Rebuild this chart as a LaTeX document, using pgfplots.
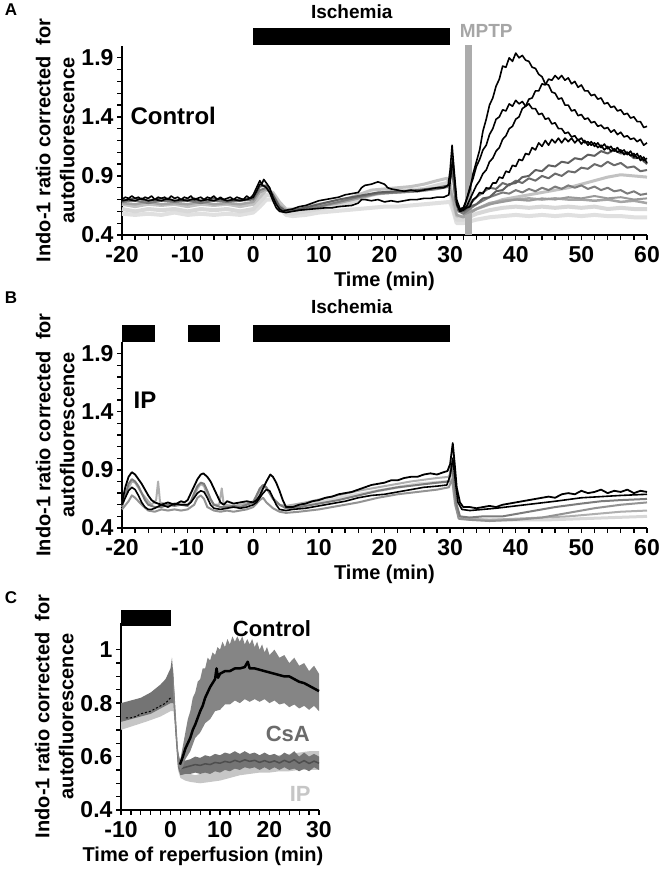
\documentclass[border=0pt]{standalone}
\usepackage{fontspec}
\setmainfont{Liberation Sans}
\usepackage{pgfplots}
\pgfplotsset{compat=1.18}

\definecolor{dg}{HTML}{5F5F5F}
\definecolor{mg}{HTML}{7C7C7C}
\definecolor{lg}{HTML}{C2C2C2}
\definecolor{vlg}{HTML}{D8D8D8}
\definecolor{csaband}{HTML}{747474}
\definecolor{csaline}{HTML}{4E4E4E}
\definecolor{csatext}{HTML}{6B6B6B}
\definecolor{ipband}{HTML}{C6C6C6}
\definecolor{ctlband}{HTML}{858585}

\pgfplotsset{
  panel/.style={
    scale only axis,
    axis x line=bottom, axis y line=left,
    axis line style={-, line width=1.5pt},
    x axis line style={-}, y axis line style={-},
    tick align=outside,
    major tick length=5pt, minor tick length=5pt,
    every tick/.style={black, line width=1.3pt},
    tick label style={font=\fontsize{23}{23}\selectfont\bfseries},
    xticklabel style={yshift=-3pt},
    label style={font=\fontsize{20}{24}\selectfont\bfseries},
    ylabel={Indo-1 ratio corrected\ \ for\\autofluorescence},
    ylabel style={align=center},
    xlabel style={at={(ticklabel cs:0.5)}, anchor=north, yshift=-2pt},
    clip=false,
    every axis plot/.append style={line join=round, mark=none},
  }
}

\begin{document}
\begin{tikzpicture}
\useasboundingbox (0,0) rectangle (660pt,870pt);

% ---------------- A: control ----------------
\begin{axis}[panel,
  at={(122pt,635pt)}, anchor=south west, width=525pt, height=189pt,
  xmin=-20, xmax=60, ymin=0.4, ymax=2,
  xtick={-20,-10,...,60}, xticklabels={-20,-10,0,10,20,30,40,50,60},
  ytick={0.4,0.9,1.4,1.9}, yticklabels={0.4,0.9,1.4,1.9},
  minor x tick num=4, minor y tick num=4,
  xlabel={Time (min)},
]
% light traces
\addplot[vlg!80!white, line width=4pt] coordinates {(-20,0.58)(-18,0.57)(-16,0.58)(-14,0.57)(-12,0.59)(-10,0.57)(-8,0.58)(-6,0.57)(-4,0.58)(-2,0.57)(0,0.59)(1,0.64)(2,0.70)(3,0.70)(4,0.63)(5,0.57)(6,0.56)(8,0.57)(10,0.59)(12,0.60)(14,0.61)(16,0.62)(18,0.63)(20,0.64)(22,0.64)(24,0.65)(26,0.66)(28,0.67)(30,0.68)(30.5,0.60)(31,0.50)(32,0.50)(34,0.53)(36,0.55)(38,0.56)(40,0.57)(42,0.56)(44,0.57)(46,0.56)(48,0.57)(50,0.56)(52,0.57)(54,0.56)(56,0.56)(58,0.55)(60,0.55)};
\addplot[vlg, line width=4pt] coordinates {(-20,0.62)(-18,0.60)(-16,0.62)(-14,0.61)(-12,0.62)(-10,0.60)(-8,0.62)(-6,0.61)(-4,0.62)(-2,0.60)(0,0.62)(1,0.68)(2,0.74)(3,0.73)(4,0.65)(5,0.59)(6,0.58)(8,0.60)(10,0.62)(12,0.64)(14,0.66)(16,0.70)(18,0.74)(20,0.76)(22,0.77)(24,0.78)(26,0.79)(28,0.82)(29.5,0.84)(30,0.80)(30.5,0.62)(31,0.53)(32,0.53)(34,0.58)(36,0.61)(38,0.63)(40,0.64)(42,0.63)(44,0.64)(46,0.63)(48,0.64)(50,0.63)(52,0.64)(54,0.62)(56,0.63)(58,0.62)(60,0.62)};
\addplot[lg, line width=3pt] coordinates {(-20,0.66)(-18,0.64)(-16,0.66)(-14,0.65)(-12,0.66)(-10,0.64)(-8,0.66)(-6,0.65)(-4,0.66)(-2,0.64)(0,0.66)(1,0.72)(2,0.78)(3,0.76)(4,0.68)(5,0.62)(6,0.62)(8,0.64)(10,0.66)(12,0.68)(14,0.70)(16,0.74)(18,0.78)(20,0.79)(22,0.80)(24,0.81)(26,0.83)(28,0.86)(29.5,0.88)(30,0.84)(30.5,0.66)(31,0.56)(32,0.56)(34,0.62)(36,0.66)(38,0.70)(40,0.72)(42,0.74)(44,0.76)(46,0.78)(48,0.80)(50,0.83)(52,0.86)(54,0.89)(56,0.91)(58,0.90)(60,0.89)};
\addplot[lg!85!black, line width=2.5pt] coordinates {(-20,0.67)(-18,0.66)(-16,0.68)(-14,0.66)(-12,0.67)(-10,0.66)(-8,0.68)(-6,0.66)(-4,0.67)(-2,0.66)(0,0.68)(1,0.76)(2,0.79)(3,0.74)(4,0.65)(5,0.61)(7,0.62)(10,0.64)(13,0.67)(16,0.71)(19,0.75)(22,0.76)(25,0.77)(28,0.79)(29.8,0.81)(30.5,0.70)(31,0.57)(32,0.55)(34,0.62)(36,0.67)(38,0.69)(40,0.70)(42,0.71)(44,0.70)(46,0.71)(48,0.70)(50,0.70)(52,0.69)(54,0.70)(56,0.68)(58,0.69)(60,0.67)};
% MPTP bar
\fill[gray!65] (axis cs:32.3,0.4) rectangle (axis cs:33.4,2.01);
% grey traces
\addplot[gray!80, line width=2pt] coordinates {(32,0.57)(34,0.62)(36,0.66)(38,0.68)(40,0.70)(42,0.69)(44,0.71)(46,0.70)(48,0.72)(50,0.71)(52,0.73)(54,0.71)(56,0.72)(58,0.70)(60,0.71)};
\addplot[mg, line width=2pt] coordinates {(-20,0.68)(-18,0.69)(-16,0.67)(-14,0.69)(-12,0.68)(-10,0.69)(-8,0.67)(-6,0.69)(-4,0.68)(-2,0.69)(0,0.70)(1,0.78)(2,0.80)(3,0.73)(4,0.63)(5,0.60)(7,0.61)(10,0.64)(13,0.68)(16,0.72)(19,0.75)(22,0.76)(25,0.77)(28,0.79)(29.8,0.81)(30.3,0.95)(30.8,0.70)(31.3,0.60)(32,0.58)(33,0.62)(34,0.66)(35,0.69)(36,0.72)(37,0.74)(38,0.76)(39,0.75)(40,0.78)(41,0.76)(42,0.79)(43,0.77)(44,0.80)(45,0.78)(46,0.81)(47,0.79)(48,0.82)(49,0.80)(50,0.82)(51,0.79)(52,0.81)(53,0.78)(54,0.80)(55,0.77)(56,0.78)(57,0.75)(58,0.77)(59,0.74)(60,0.75)};
\addplot[csatext, line width=2pt] coordinates {(32,0.60)(33,0.66)(34,0.72)(35,0.76)(36,0.80)(37,0.79)(38,0.84)(39,0.82)(40,0.86)(41,0.84)(42,0.88)(43,0.86)(44,0.90)(45,0.88)(46,0.92)(47,0.90)(48,0.94)(49,0.93)(50,0.97)(51,0.96)(52,1.00)(53,0.98)(54,1.02)(55,0.99)(56,1.01)(57,0.97)(58,0.98)(59,0.94)(60,0.95)};
\addplot[dg, line width=2pt] coordinates {(-20,0.69)(-18,0.71)(-16,0.69)(-14,0.71)(-12,0.69)(-10,0.70)(-8,0.69)(-6,0.71)(-4,0.69)(-2,0.70)(0,0.71)(1,0.81)(2,0.82)(3,0.74)(4,0.64)(5,0.60)(7,0.62)(10,0.66)(13,0.70)(16,0.73)(19,0.76)(22,0.77)(25,0.78)(28,0.80)(29.8,0.82)(30.3,1.0)(30.8,0.70)(31.3,0.60)(32,0.60)(33,0.64)(34,0.66)(35,0.71)(36,0.72)(37,0.77)(38,0.78)(39,0.83)(40,0.84)(41,0.89)(42,0.90)(43,0.95)(44,0.94)(45,0.99)(46,0.98)(47,1.02)(48,1.01)(49,1.05)(50,1.04)(51,1.08)(52,1.07)(53,1.11)(54,1.09)(55,1.12)(56,1.09)(57,1.10)(58,1.05)(59,1.05)(60,1.00)};
% black traces
\addplot[black, line width=1.6pt] coordinates {(-20,0.69)(-19,0.70)(-18,0.69)(-17,0.71)(-16,0.69)(-15,0.70)(-14,0.69)(-13,0.71)(-12,0.69)(-11,0.70)(-10,0.69)(-9,0.71)(-8,0.69)(-7,0.70)(-6,0.69)(-5,0.71)(-4,0.69)(-3,0.70)(-2,0.69)(-1,0.70)(0,0.72)(0.5,0.77)(1,0.83)(1.5,0.82)(2,0.80)(2.5,0.76)(3,0.69)(3.5,0.63)(4,0.60)(5,0.59)(6,0.60)(7,0.61)(8,0.615)(9,0.62)(10,0.625)(11,0.63)(12,0.63)(13,0.64)(14,0.645)(15,0.65)(16,0.67)(16.5,0.70)(17,0.70)(18,0.69)(19,0.70)(20,0.68)(21,0.69)(22,0.68)(23,0.69)(24,0.70)(25,0.70)(26,0.71)(27,0.71)(28,0.72)(29,0.72)(29.8,0.74)(30.1,0.90)(30.4,1.05)(30.7,0.85)(31,0.66)(31.5,0.60)(32,0.61)(32.5,0.70)(33,0.80)(33.5,0.88)(34,0.98)(34.5,1.04)(35,1.12)(35.5,1.16)(36,1.25)(36.5,1.30)(37,1.38)(37.5,1.40)(38,1.46)(38.5,1.45)(39,1.51)(39.5,1.49)(40,1.54)(40.5,1.51)(41,1.53)(41.5,1.49)(42,1.51)(42.5,1.47)(43,1.47)(43.5,1.42)(44,1.43)(44.5,1.38)(45,1.39)(45.5,1.34)(46,1.35)(46.5,1.30)(47,1.30)(47.5,1.26)(48,1.27)(48.5,1.23)(49,1.24)(49.5,1.20)(50,1.22)(50.5,1.18)(51,1.19)(51.5,1.16)(52,1.18)(52.5,1.14)(53,1.16)(53.5,1.12)(54,1.15)(54.5,1.11)(55,1.13)(55.5,1.10)(56,1.12)(56.5,1.08)(57,1.10)(57.5,1.07)(58,1.09)(58.5,1.05)(59,1.07)(59.5,1.03)(60,1.05)};
\addplot[black, line width=1.6pt] coordinates {(31.5,0.62)(32,0.61)(32.5,0.63)(33,0.64)(33.5,0.70)(34,0.72)(34.5,0.76)(35,0.75)(35.5,0.80)(36,0.79)(36.5,0.84)(37,0.84)(37.5,0.89)(38,0.88)(38.5,0.94)(39,0.93)(39.5,0.99)(40,0.98)(40.5,1.04)(41,1.03)(41.5,1.09)(42,1.08)(42.5,1.14)(43,1.12)(43.5,1.18)(44,1.15)(44.5,1.20)(45,1.16)(45.5,1.21)(46,1.18)(46.5,1.22)(47,1.18)(47.5,1.22)(48,1.19)(48.5,1.22)(49,1.18)(49.5,1.21)(50,1.17)(50.5,1.20)(51,1.16)(51.5,1.19)(52,1.15)(52.5,1.18)(53,1.14)(53.5,1.17)(54,1.13)(54.5,1.15)(55,1.11)(55.5,1.14)(56,1.10)(56.5,1.12)(57,1.08)(57.5,1.11)(58,1.06)(58.5,1.09)(59,1.03)(59.5,1.06)(60,1.01)};
\addplot[black, line width=1.6pt] coordinates {(31.5,0.62)(32,0.63)(32.5,0.64)(33,0.70)(33.5,0.76)(34,0.82)(34.5,0.86)(35,0.92)(35.5,0.95)(36,1.02)(36.5,1.05)(37,1.11)(37.5,1.14)(38,1.21)(38.5,1.24)(39,1.30)(39.5,1.32)(40,1.38)(40.5,1.40)(41,1.47)(41.5,1.49)(42,1.55)(42.5,1.56)(43,1.62)(43.5,1.62)(44,1.68)(44.5,1.67)(45,1.72)(45.5,1.71)(46,1.75)(46.5,1.72)(47,1.75)(47.5,1.71)(48,1.73)(48.5,1.68)(49,1.70)(49.5,1.65)(50,1.67)(50.5,1.62)(51,1.62)(51.5,1.58)(52,1.59)(52.5,1.55)(53,1.56)(53.5,1.51)(54,1.52)(54.5,1.48)(55,1.49)(55.5,1.45)(56,1.46)(56.5,1.42)(57,1.43)(57.5,1.39)(58,1.40)(58.5,1.36)(59,1.36)(59.5,1.31)(60,1.32)};
\addplot[black, line width=1.6pt] coordinates {(-20,0.70)(-19.5,0.72)(-19,0.71)(-18.5,0.73)(-18,0.71)(-17.5,0.72)(-17,0.70)(-16.5,0.72)(-16,0.71)(-15.5,0.73)(-15,0.70)(-14.5,0.72)(-14,0.71)(-13.5,0.72)(-13,0.70)(-12.5,0.73)(-12,0.71)(-11.5,0.72)(-11,0.70)(-10.5,0.72)(-10,0.71)(-9.5,0.73)(-9,0.70)(-8.5,0.71)(-8,0.72)(-7.5,0.70)(-7,0.72)(-6.5,0.71)(-6,0.73)(-5.5,0.70)(-5,0.72)(-4.5,0.70)(-4,0.71)(-3.5,0.72)(-3,0.70)(-2.5,0.72)(-2,0.71)(-1.5,0.70)(-1,0.73)(-0.5,0.71)(0,0.74)(0.5,0.80)(1,0.86)(1.3,0.83)(1.6,0.87)(2,0.84)(2.5,0.80)(3,0.72)(3.5,0.66)(4,0.62)(4.5,0.60)(5,0.61)(6,0.62)(7,0.64)(8,0.65)(9,0.67)(10,0.69)(11,0.70)(12,0.71)(13,0.72)(14,0.74)(15,0.75)(16,0.76)(16.5,0.80)(17,0.82)(18,0.83)(19,0.85)(20,0.83)(20.5,0.80)(21,0.79)(22,0.78)(23,0.77)(24,0.78)(25,0.77)(26,0.78)(27,0.79)(28,0.80)(29,0.80)(29.7,0.82)(30,0.95)(30.3,1.16)(30.6,0.95)(31,0.70)(31.5,0.62)(32,0.63)(32.5,0.70)(33,0.78)(33.5,0.92)(34,1.02)(34.5,1.12)(35,1.28)(35.5,1.38)(36,1.50)(36.5,1.56)(37,1.66)(37.5,1.72)(38,1.83)(38.5,1.82)(39,1.90)(39.5,1.87)(40,1.94)(40.5,1.90)(41,1.92)(41.5,1.88)(42,1.87)(42.5,1.82)(43,1.81)(43.5,1.76)(44,1.74)(44.5,1.68)(45,1.67)(45.5,1.61)(46,1.60)(46.5,1.55)(47,1.56)(47.5,1.50)(48,1.50)(48.5,1.45)(49,1.46)(49.5,1.41)(50,1.42)(50.5,1.38)(51,1.39)(51.5,1.35)(52,1.36)(52.5,1.32)(53,1.33)(53.5,1.30)(54,1.31)(54.5,1.27)(55,1.29)(55.5,1.25)(56,1.27)(56.5,1.23)(57,1.24)(57.5,1.21)(58,1.22)(58.5,1.19)(59,1.21)(59.5,1.16)(60,1.18)};
% annotations
\fill[black] (axis cs:0,2.01) rectangle (axis cs:30,2.154);
\node[font=\fontsize{19}{19}\selectfont\bfseries] at (axis cs:15,2.29) {Ischemia};
\node[font=\fontsize{19}{19}\selectfont\bfseries, text=gray!70] at (axis cs:35.5,2.13) {MPTP};
\node[font=\fontsize{24}{24}\selectfont\bfseries] at (axis cs:-12.2,1.41) {Control};
\end{axis}

% ---------------- B: IP ----------------
\begin{axis}[panel,
  at={(122pt,342pt)}, anchor=south west, width=525pt, height=186pt,
  xmin=-20, xmax=60, ymin=0.4, ymax=2,
  xtick={-20,-10,...,60}, xticklabels={-20,-10,0,10,20,30,40,50,60},
  ytick={0.4,0.9,1.4,1.9}, yticklabels={0.4,0.9,1.4,1.9},
  minor x tick num=4, minor y tick num=4,
  xlabel={Time (min)},
]
\addplot[vlg, line width=3pt] coordinates {(5,0.58)(10,0.62)(15,0.68)(20,0.73)(25,0.78)(29.8,0.80)(30.3,0.85)(30.8,0.60)(31.5,0.48)(35,0.47)(40,0.47)(45,0.47)(50,0.48)(55,0.49)(60,0.50)};
\addplot[lg!90!black, line width=2pt] coordinates {(-20,0.62)(-19,0.74)(-18.5,0.80)(-18,0.79)(-17,0.70)(-16,0.63)(-15.5,0.60)(-14.8,0.64)(-14.5,0.80)(-14.2,0.62)(-13,0.60)(-12,0.61)(-11,0.60)(-10,0.60)(-9,0.66)(-8.5,0.74)(-8,0.78)(-7.5,0.76)(-7,0.68)(-6,0.60)(-5.2,0.60)(-4.8,0.74)(-4.5,0.60)(-3,0.59)(-2,0.60)(-1,0.61)(0,0.63)(1,0.72)(1.5,0.76)(2,0.74)(3,0.66)(4,0.60)(5,0.59)(8,0.62)(12,0.67)(16,0.72)(20,0.76)(24,0.80)(28,0.83)(29.8,0.84)(30.3,0.90)(30.8,0.62)(31.3,0.50)(33,0.48)(36,0.47)(40,0.48)(44,0.49)(48,0.50)(52,0.52)(56,0.54)(60,0.55)};
\addplot[gray!85, line width=2pt] coordinates {(-20,0.56)(-19,0.63)(-18.5,0.68)(-18,0.66)(-17,0.60)(-16,0.55)(-15,0.54)(-14,0.56)(-13,0.55)(-12,0.56)(-11,0.55)(-10,0.56)(-9,0.60)(-8.5,0.66)(-8,0.68)(-7.5,0.65)(-7,0.58)(-6,0.55)(-5,0.54)(-4,0.55)(-3,0.54)(-2,0.55)(-1,0.56)(0,0.58)(1,0.64)(1.5,0.66)(2,0.62)(3,0.57)(4,0.54)(5,0.53)(7,0.54)(10,0.56)(13,0.59)(16,0.62)(19,0.66)(22,0.69)(25,0.71)(28,0.73)(29.8,0.75)(30.3,0.82)(30.8,0.60)(31.3,0.48)(33,0.47)(36,0.46)(40,0.47)(44,0.49)(48,0.53)(52,0.57)(56,0.60)(60,0.62)};
\addplot[mg, line width=2pt] coordinates {(-20,0.58)(-19.5,0.68)(-19,0.78)(-18.5,0.82)(-18,0.80)(-17.5,0.76)(-17,0.70)(-16.5,0.64)(-16,0.60)(-15,0.58)(-14,0.58)(-13,0.60)(-12,0.59)(-11,0.60)(-10,0.59)(-9.5,0.63)(-9,0.70)(-8.5,0.76)(-8,0.79)(-7.5,0.78)(-7,0.72)(-6.5,0.65)(-6,0.60)(-5,0.58)(-4,0.58)(-3,0.59)(-2,0.58)(-1,0.60)(0,0.62)(0.5,0.68)(1,0.74)(1.5,0.77)(2,0.75)(2.5,0.70)(3,0.65)(4,0.60)(5,0.57)(7,0.58)(10,0.61)(13,0.64)(16,0.68)(19,0.72)(22,0.75)(25,0.77)(28,0.79)(29.8,0.80)(30.2,0.95)(30.6,0.80)(31,0.60)(31.5,0.50)(33,0.49)(35,0.50)(38,0.50)(40,0.52)(43,0.55)(46,0.58)(50,0.61)(53,0.63)(56,0.64)(60,0.65)};
\addplot[black, line width=1.6pt] coordinates {(-20,0.60)(-19.5,0.66)(-19,0.72)(-18.5,0.75)(-18,0.73)(-17.5,0.68)(-17,0.62)(-16.5,0.58)(-16,0.56)(-15.5,0.56)(-15,0.57)(-14,0.60)(-13,0.58)(-12,0.61)(-11,0.60)(-10,0.60)(-9.5,0.62)(-9,0.66)(-8.5,0.70)(-8,0.72)(-7.5,0.71)(-7,0.66)(-6.5,0.60)(-6,0.57)(-5,0.56)(-4,0.57)(-3,0.58)(-2,0.57)(-1,0.58)(0,0.60)(0.5,0.62)(1,0.66)(1.5,0.70)(2,0.73)(2.5,0.72)(3,0.66)(3.5,0.60)(4,0.56)(5,0.55)(6,0.56)(8,0.57)(10,0.59)(12,0.61)(14,0.63)(16,0.66)(17,0.67)(18,0.68)(20,0.69)(22,0.71)(24,0.73)(26,0.75)(28,0.76)(29.5,0.77)(30,0.85)(30.4,1.0)(30.8,0.80)(31.2,0.62)(31.8,0.56)(33,0.55)(35,0.56)(37,0.57)(40,0.59)(43,0.61)(46,0.63)(50,0.66)(53,0.67)(56,0.68)(60,0.69)};
\addplot[black, line width=1.8pt] coordinates {(-20,0.62)(-19.5,0.75)(-19,0.84)(-18.5,0.88)(-18,0.86)(-17.5,0.82)(-17,0.78)(-16.5,0.73)(-16,0.68)(-15.5,0.64)(-15,0.62)(-14,0.60)(-13,0.62)(-12,0.60)(-11,0.63)(-10.5,0.62)(-10,0.64)(-9.5,0.70)(-9,0.76)(-8.5,0.82)(-8,0.86)(-7.6,0.87)(-7,0.84)(-6.5,0.80)(-6,0.74)(-5.5,0.68)(-5,0.62)(-4.5,0.60)(-4,0.63)(-3,0.61)(-2,0.62)(-1,0.63)(0,0.62)(0.5,0.64)(1,0.68)(1.5,0.74)(2,0.80)(2.6,0.86)(3,0.84)(3.5,0.79)(4,0.72)(4.5,0.64)(5,0.58)(6,0.58)(7,0.60)(8,0.61)(9,0.63)(10,0.64)(11,0.66)(12,0.67)(13,0.69)(14,0.70)(15,0.71)(16,0.73)(17,0.75)(18,0.77)(19,0.78)(20,0.79)(21,0.81)(22,0.81)(23,0.83)(24,0.84)(25,0.84)(26,0.86)(27,0.87)(28,0.86)(29,0.88)(29.6,0.89)(30,0.95)(30.4,1.13)(30.7,0.95)(31,0.75)(31.5,0.62)(32,0.58)(33,0.58)(34,0.57)(35,0.58)(36,0.59)(37,0.58)(38,0.60)(39,0.61)(40,0.62)(41,0.63)(42,0.64)(43,0.65)(44,0.66)(45,0.67)(46,0.66)(47,0.69)(48,0.70)(49,0.69)(50,0.72)(51,0.70)(52,0.71)(53,0.73)(54,0.70)(55,0.72)(56,0.71)(57,0.73)(58,0.70)(59,0.72)(60,0.71)};
\fill[black] (axis cs:-20,2.003) rectangle (axis cs:-15,2.15);
\fill[black] (axis cs:-10,2.003) rectangle (axis cs:-5,2.15);
\fill[black] (axis cs:0,2.003) rectangle (axis cs:30,2.15);
\node[font=\fontsize{19}{19}\selectfont\bfseries] at (axis cs:15,2.30) {Ischemia};
\node[font=\fontsize{24}{24}\selectfont\bfseries] at (axis cs:-16.5,1.50) {IP};
\end{axis}

% ---------------- C: means ----------------
\begin{axis}[panel,
  at={(121pt,60pt)}, anchor=south west, width=198pt, height=187pt,
  xmin=-10, xmax=30, ymin=0.4, ymax=1.1,
  xtick={-10,0,10,20,30}, xticklabels={-10,0,10,20,30},
  ytick={0.4,0.6,0.8,1.0}, yticklabels={0.4,0.6,0.8,1},
  minor x tick num=4, minor y tick num=3,
  xlabel={Time of reperfusion (min)},
  xlabel style={at={(ticklabel cs:0.414)}},
]
% IP
\addplot[fill=ipband, draw=none] coordinates {(-10,0.76)(-5,0.78)(-2,0.80)(0,0.83)(0.6,0.90)(1,0.75)(1.5,0.60)(2,0.55)(3,0.54)(4,0.535)(5,0.53)(6,0.535)(7,0.54)(8,0.55)(9,0.56)(10,0.57)(12,0.58)(14,0.59)(16,0.595)(18,0.60)(20,0.60)(22,0.605)(24,0.61)(26,0.615)(28,0.62)(30,0.62)(30,0.55)(28,0.55)(26,0.55)(24,0.545)(22,0.545)(20,0.54)(18,0.54)(16,0.535)(14,0.53)(12,0.52)(10,0.51)(8,0.505)(6,0.50)(4,0.505)(3,0.51)(2,0.52)(1.5,0.55)(1,0.70)(0.6,0.77)(0,0.77)(-2,0.75)(-5,0.73)(-10,0.70)} -- cycle;
% CsA
\addplot[fill=csaband, draw=none] coordinates {(-10,0.80)(-8,0.81)(-6,0.82)(-4,0.84)(-2,0.87)(-1,0.89)(0,0.93)(0.3,0.97)(0.6,0.90)(1,0.76)(1.5,0.62)(2,0.58)(3,0.585)(4,0.59)(5,0.60)(6,0.595)(7,0.605)(8,0.60)(9,0.61)(10,0.605)(11,0.615)(12,0.61)(13,0.62)(14,0.61)(15,0.62)(16,0.61)(17,0.615)(18,0.605)(19,0.615)(20,0.605)(21,0.61)(22,0.60)(23,0.615)(24,0.605)(25,0.62)(26,0.60)(27,0.615)(28,0.60)(29,0.61)(30,0.60)(30,0.55)(29,0.56)(28,0.545)(27,0.555)(26,0.545)(25,0.555)(24,0.55)(23,0.56)(22,0.55)(21,0.56)(20,0.55)(19,0.56)(18,0.55)(17,0.56)(16,0.555)(15,0.56)(14,0.55)(13,0.555)(12,0.545)(11,0.55)(10,0.54)(9,0.545)(8,0.535)(7,0.54)(6,0.535)(5,0.54)(4,0.535)(3,0.535)(2,0.53)(1.5,0.56)(1,0.68)(0.6,0.80)(0,0.80)(-2,0.78)(-4,0.76)(-6,0.75)(-8,0.74)(-10,0.73)} -- cycle;
\addplot[csaline, line width=1.5pt] coordinates {(1.5,0.60)(2,0.555)(3,0.56)(4,0.565)(5,0.57)(6,0.567)(7,0.573)(8,0.57)(9,0.578)(10,0.575)(11,0.582)(12,0.578)(13,0.586)(14,0.58)(15,0.588)(16,0.582)(17,0.586)(18,0.578)(19,0.585)(20,0.578)(21,0.584)(22,0.576)(23,0.586)(24,0.578)(25,0.588)(26,0.575)(27,0.585)(28,0.574)(29,0.583)(30,0.575)};
\addplot[black, line width=1pt, dash pattern=on 2pt off 2pt] coordinates {(-9,0.745)(-8,0.745)(-7,0.75)(-6,0.76)(-5,0.765)(-4,0.77)(-3,0.78)(-2,0.79)(-1,0.80)(0,0.82)};
% Control
\addplot[fill=ctlband, draw=none] coordinates {(0.5,0.93)(1,0.78)(1.5,0.63)(1.9,0.58)(2.5,0.64)(3,0.69)(3.5,0.74)(4,0.77)(4.5,0.82)(5,0.84)(5.5,0.88)(6,0.89)(6.5,0.93)(7,0.93)(7.5,0.97)(8,0.96)(8.5,0.99)(9,0.98)(9.5,1.01)(10,1.00)(10.5,1.03)(11,1.01)(11.5,1.04)(12,1.02)(12.5,1.05)(13,1.03)(13.5,1.05)(14,1.03)(14.5,1.05)(15,1.02)(15.5,1.04)(16,1.02)(16.5,1.04)(17,1.01)(17.5,1.03)(18,1.00)(18.5,1.02)(19,0.99)(19.5,1.01)(20,0.98)(21,1.00)(22,0.97)(23,0.98)(24,0.95)(25,0.97)(26,0.94)(27,0.95)(28,0.92)(29,0.94)(30,0.91)(30,0.77)(29,0.79)(28,0.775)(27,0.79)(26,0.78)(25,0.795)(24,0.785)(23,0.80)(22,0.795)(21,0.81)(20,0.80)(19,0.815)(18,0.805)(17,0.815)(16,0.805)(15,0.815)(14,0.80)(13,0.81)(12,0.795)(11,0.795)(10,0.775)(9,0.77)(8,0.74)(7,0.725)(6,0.69)(5,0.67)(4,0.62)(3,0.59)(2.5,0.56)(2,0.55)(1.5,0.57)(1,0.70)(0.5,0.84)} -- cycle;
\addplot[black, line width=2.5pt] coordinates {(1.9,0.57)(2.5,0.60)(3,0.63)(3.5,0.65)(4,0.67)(4.5,0.70)(5,0.72)(5.5,0.745)(6,0.77)(6.5,0.79)(7,0.82)(7.5,0.84)(8,0.86)(8.5,0.875)(9,0.89)(9.3,0.93)(9.6,0.895)(10,0.91)(11,0.92)(12,0.92)(13,0.93)(14,0.93)(15,0.935)(15.6,0.955)(16,0.93)(17,0.93)(18,0.925)(19,0.92)(20,0.915)(21,0.91)(22,0.905)(23,0.90)(24,0.90)(25,0.89)(26,0.88)(27,0.875)(28,0.865)(29,0.855)(30,0.845)};
\fill[black] (axis cs:-10,1.09) rectangle (axis cs:0,1.15);
\node[font=\fontsize{22}{22}\selectfont\bfseries] at (axis cs:20.5,1.08) {Control};
\node[font=\fontsize{22}{22}\selectfont\bfseries, text=csatext] at (axis cs:23.7,0.685) {CsA};
\node[font=\fontsize{22}{22}\selectfont\bfseries, text=ipband] at (axis cs:26.2,0.46) {IP};
\end{axis}

\node[font=\fontsize{17}{17}\selectfont\bfseries] at (11pt,860pt) {A};
\node[font=\fontsize{17}{17}\selectfont\bfseries] at (11pt,572pt) {B};
\node[font=\fontsize{17}{17}\selectfont\bfseries] at (11pt,272pt) {C};
\end{tikzpicture}
\end{document}
